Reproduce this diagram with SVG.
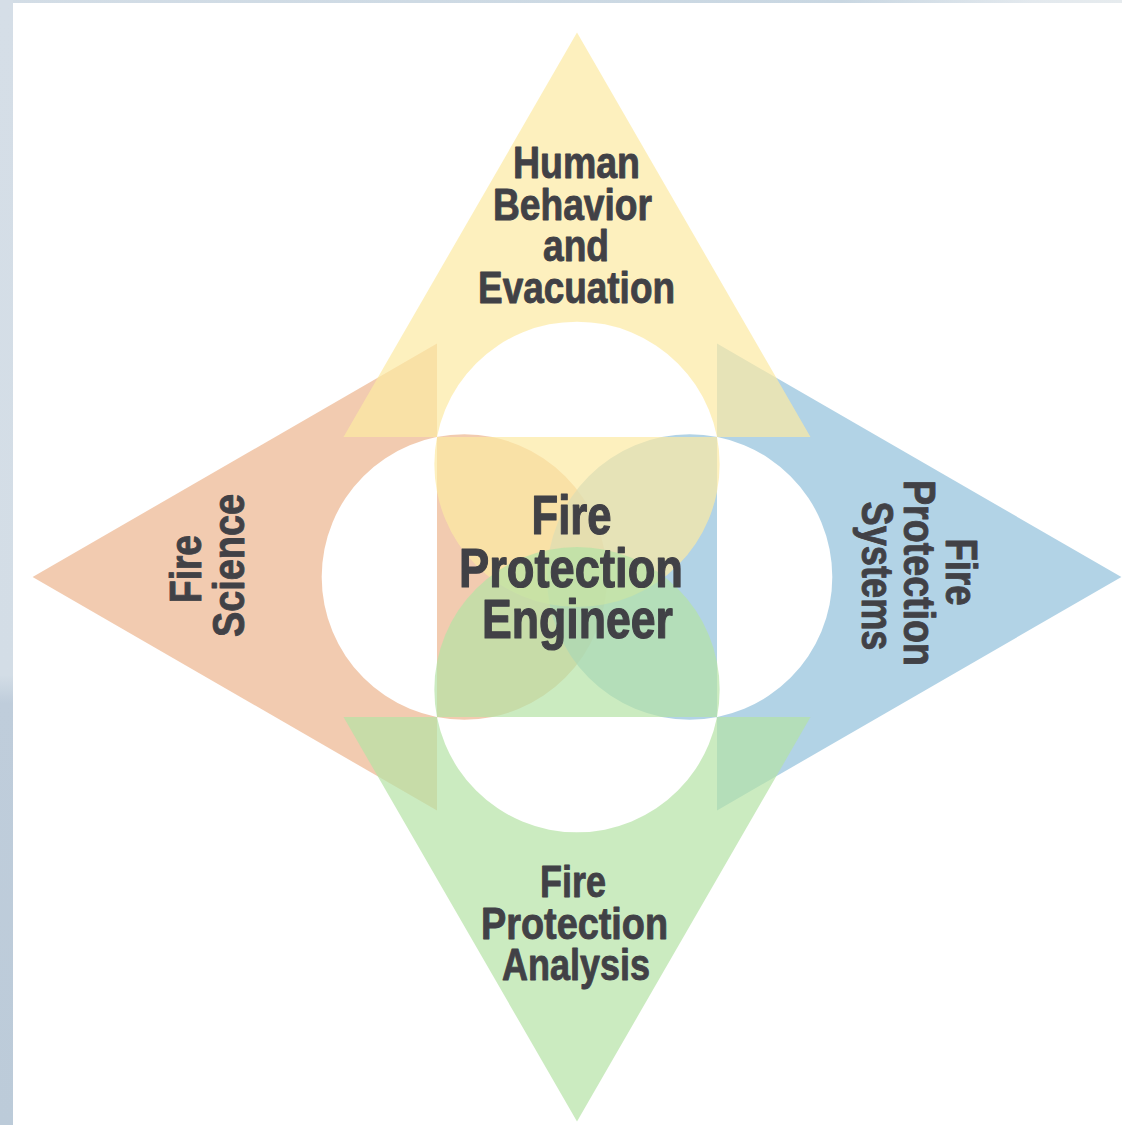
<svg xmlns="http://www.w3.org/2000/svg" width="1122" height="1125" viewBox="0 0 1122 1125">
<style>
.petal{fill-rule:evenodd;opacity:0.7}
.lbl{font-family:"Liberation Sans Narrow","Liberation Sans",Arial,sans-serif;font-weight:bold;fill:#414146;stroke:#414146;stroke-width:0.9;stroke-linejoin:round;font-size:44px}
.ctr{font-size:56px;stroke-width:1.2}
</style>
<defs>
<linearGradient id="side" x1="0" y1="0" x2="0" y2="1">
<stop offset="0" stop-color="#d5dee7"/>
<stop offset="0.6" stop-color="#d3dde6"/>
<stop offset="0.625" stop-color="#bfcddb"/>
<stop offset="1" stop-color="#bccbd9"/>
</linearGradient>
<linearGradient id="topb" x1="0" y1="0" x2="1" y2="0">
<stop offset="0" stop-color="#d3dde6"/>
<stop offset="0.75" stop-color="#c9d7e2"/>
<stop offset="0.92" stop-color="#e3e9ee"/>
<stop offset="1" stop-color="#e6ebee"/>
</linearGradient>
</defs>
<rect x="0" y="0" width="1122" height="3" fill="url(#topb)"/>
<rect x="0" y="0" width="13" height="1125" fill="url(#side)"/>
<rect x="13" y="3" width="1109" height="1122" fill="#ffffff"/>

<g id="fire-science">
<path class="petal" fill="#ecb58e" d="M32.6,577 L437,343.5 L437,810.5 Z M321.7,577 A142.65,142.65 0 1,0 607,577 A142.65,142.65 0 1,0 321.7,577 Z"/>
<g class="lbl">
<text transform="translate(201,603) rotate(-90)" x="0" y="0" textLength="68" lengthAdjust="spacingAndGlyphs">Fire</text>
<text transform="translate(244,637) rotate(-90)" x="0" y="0" textLength="143" lengthAdjust="spacingAndGlyphs">Science</text>
</g>
</g>

<g id="fire-protection-systems">
<path class="petal" fill="#92c0db" d="M1121.4,577 L717,343.5 L717,810.5 Z M547,577 A142.65,142.65 0 1,0 832.3,577 A142.65,142.65 0 1,0 547,577 Z"/>
<g class="lbl">
<text transform="translate(946,538.5) rotate(90)" x="0" y="0" textLength="67" lengthAdjust="spacingAndGlyphs">Fire</text>
<text transform="translate(903.5,480) rotate(90)" x="0" y="0" textLength="186" lengthAdjust="spacingAndGlyphs">Protection</text>
<text transform="translate(861.5,501.5) rotate(90)" x="0" y="0" textLength="149" lengthAdjust="spacingAndGlyphs">Systems</text>
</g>
</g>

<g id="human-behavior">
<path class="petal" fill="#fceaa2" d="M577,32.6 L810.5,437 L343.5,437 Z M434.35,464.35 A142.65,142.65 0 1,0 719.65,464.35 A142.65,142.65 0 1,0 434.35,464.35 Z"/>
<g class="lbl">
<text x="513" y="178" textLength="127" lengthAdjust="spacingAndGlyphs">Human</text>
<text x="493" y="220" textLength="159" lengthAdjust="spacingAndGlyphs">Behavior</text>
<text x="543" y="261" textLength="66" lengthAdjust="spacingAndGlyphs">and</text>
<text x="478" y="303" textLength="197" lengthAdjust="spacingAndGlyphs">Evacuation</text>
</g>
</g>

<g id="fire-protection-analysis">
<path class="petal" fill="#b5e2a5" d="M577,1121.4 L810.5,717 L343.5,717 Z M434.35,689.65 A142.65,142.65 0 1,0 719.65,689.65 A142.65,142.65 0 1,0 434.35,689.65 Z"/>
<g class="lbl">
<text x="540" y="897" textLength="66" lengthAdjust="spacingAndGlyphs">Fire</text>
<text x="481" y="939" textLength="187" lengthAdjust="spacingAndGlyphs">Protection</text>
<text x="502" y="980" textLength="148" lengthAdjust="spacingAndGlyphs">Analysis</text>
</g>
</g>

<g id="fire-protection-engineer">
<g class="lbl ctr">
<text x="531.5" y="533.5" textLength="80" lengthAdjust="spacingAndGlyphs">Fire</text>
<text x="459" y="586.5" textLength="224" lengthAdjust="spacingAndGlyphs">Protection</text>
<text x="482" y="637.5" textLength="191" lengthAdjust="spacingAndGlyphs">Engineer</text>
</g>
</g>
</svg>
